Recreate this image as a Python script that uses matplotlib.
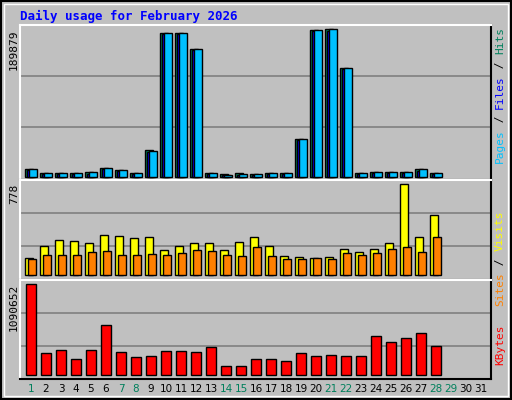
import matplotlib
matplotlib.use("Agg")
import matplotlib.pyplot as plt
import numpy as np

days = list(range(1, 32))
hits = [10500, 5300, 5300, 5300, 6600, 11900, 9200, 5300, 35600, 189879, 189879, 168800,
        5300, 4000, 5300, 4000, 5300, 5300, 50100, 193800, 195200, 143800, 5300, 6600, 6600, 6600, 10500, 5300]
files = [9000, 4000, 4000, 4000, 4500, 11000, 8500, 4000, 33000, 188000, 188000, 167000,
         4000, 2500, 3000, 2500, 4000, 4000, 49000, 192000, 193000, 142000, 4000, 5000, 5000, 5000, 8000, 4000]
pages = [10000, 5000, 5000, 5000, 6000, 11500, 9000, 5000, 34500, 189500, 189500, 168500,
         5000, 3000, 4000, 3500, 5000, 5000, 49800, 193500, 195000, 143500, 5000, 6200, 6200, 6200, 10000, 5000]
visits = [145, 248, 299, 291, 274, 342, 333, 316, 325, 214, 248, 274, 274, 214, 282, 325, 248, 162, 154, 145, 154, 222, 197, 222, 274, 778, 325, 513]
sites = [137, 171, 171, 171, 197, 205, 171, 171, 180, 171, 188, 214, 205, 171, 162, 239, 162, 137, 137, 145, 137, 188, 171, 188, 222, 239, 197, 325]
kbytes = [1090652, 263700, 299600, 191700, 299600, 599300, 275600, 215700, 227600, 287600,
          287600, 275600, 335500, 107900, 107900, 191700, 191700, 167800, 263700, 227600,
          239700, 227600, 227600, 467400, 395500, 443400, 503300, 347600]
green_days = [1, 7, 8, 14, 15, 21, 22, 28, 29]

BG = "#c0c0c0"
fig = plt.figure(figsize=(5.12, 4.0), dpi=100, facecolor=BG)
W, H = 512, 400

def ax_at(x0, y0, x1, y1):
    a = fig.add_axes([x0 / W, 1 - y1 / H, (x1 - x0) / W, (y1 - y0) / H])
    a.set_facecolor(BG)
    a.set_xticks([]); a.set_yticks([])
    for s in a.spines.values():
        s.set_linewidth(1.5)
    a.spines['top'].set_color('white'); a.spines['left'].set_color('white')
    a.spines['bottom'].set_color('black'); a.spines['right'].set_color('black')
    a.set_xlim(0.267, 31.67)
    return a

d = np.arange(1, len(hits) + 1)
px = 1 / 15.0
mono = "DejaVu Sans Mono"

# top panel
a1 = ax_at(20, 25, 491, 180)
a1.set_ylim(-3 * 1318.6, 152 * 1318.6)
for g in [66400, 133100]:
    a1.axhline(g, color="#808080", lw=1.2, zorder=0)
kw = dict(edgecolor="black", linewidth=1.0, align="center")
a1.bar(d - 2 * px, hits, width=8 * px, color="#00805c", **kw)
a1.bar(d, files, width=8 * px, color="#0000ff", **kw)
a1.bar(d + 2 * px, pages, width=8 * px, color="#00c0ff", **kw)

# middle panel
a2 = ax_at(20, 180, 491, 280)
a2.set_ylim(-5 * 8.55, 95 * 8.55)
for g in [248, 530]:
    a2.axhline(g, color="#808080", lw=1.2, zorder=0)
a2.bar(d - 1.5 * px, visits, width=8 * px, color="#ffff00", **kw)
a2.bar(d + 1.5 * px, sites, width=8 * px, color="#ff8000", **kw)

# bottom panel
a3 = ax_at(20, 280, 491, 379)
a3.set_ylim(-4 * 11985, 95 * 11985)
for g in [348000, 743000]:
    a3.axhline(g, color="#808080", lw=1.2, zorder=0)
a3.bar(d, kbytes, width=10 * px, color="#ff0000", **kw)

# texts
fig.text(20 / W, 1 - 16 / H, "Daily usage for February 2026", color="#0000ff",
         family=mono, weight="bold", fontsize=9, va="center")
for y, lab in [(30, str(max(hits[:9] + hits[10:12]) if False else 189879)), (184, "778"), (284, "1090652")]:
    fig.text(14 / W, 1 - y / H, lab, rotation=90, ha="center", va="top",
             family=mono, fontsize=8, color="black")
for dd in days:
    x = (31 + 15 * (dd - 1)) / W
    fig.text(x, 1 - 389 / H, str(dd), ha="center", va="center", fontsize=7.5,
             color="#00805c" if dd in green_days else "black", family="DejaVu Sans")

def right_label(parts, ycenter):
    # stack rotated text pieces from bottom to top
    y = ycenter
    total = sum(len(p) for p, _ in parts) * 6.8
    y = ycenter + total / 2
    for p, c in parts:
        fig.text(500 / W, 1 - y / H, p, rotation=90, ha="center", va="bottom",
                 family=mono, fontsize=8, color=c)
        y -= len(p) * 6.8

right_label([("Pages", "#00c0ff"), (" / ", "black"), ("Files", "#0000ff"), (" / ", "black"), ("Hits", "#00805c")], 95)
right_label([("Sites", "#ff8000"), (" / ", "black"), ("Visits", "#ffff00")], 258)
right_label([("KBytes", "#ff0000")], 345)

# outer border
fig.patches.append(plt.Rectangle((1 / W, 1 / H), 1 - 2 / W, 1 - 2 / H, transform=fig.transFigure,
                                 fill=False, edgecolor="black", lw=1.5))
fig.patches.append(plt.Rectangle((4 / W, 4 / H), 1 - 8 / W, 1 - 8 / H, transform=fig.transFigure,
                                 fill=False, edgecolor="white", lw=1.0))

fig.savefig("out.png", dpi=100, facecolor=BG)
